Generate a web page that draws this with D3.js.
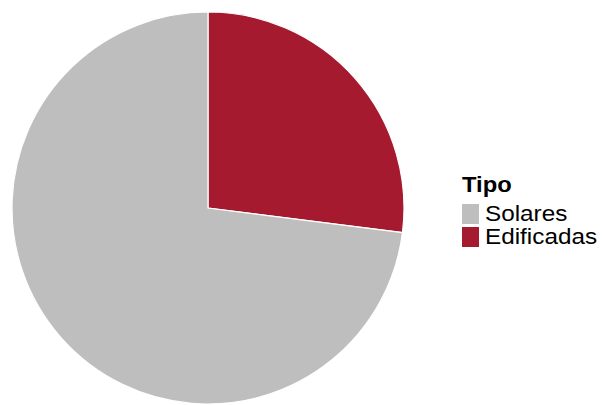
<!DOCTYPE html>
<html>
<head>
<meta charset="utf-8">
<script src="https://cdn.jsdelivr.net/npm/d3@7"></script>
<style>
  body { margin: 0; background: #fff; }
  text { font-family: "Liberation Sans", Arial, sans-serif; }
</style>
</head>
<body>
<svg id="chart" width="603" height="405"></svg>
<script>
const categories = ["Edificadas", "Solares"];
const values = [27, 73];
const legendOrder = ["Solares", "Edificadas"];
const colors = { "Solares": "#bebebe", "Edificadas": "#a51a2f" };

const width = 603, height = 405;
const cx = 208, cy = 208, radius = 196;

const svg = d3.select("#chart");

const pie = d3.pie().sort(null).value(d => d.value);
const arc = d3.arc().innerRadius(0).outerRadius(radius);

const data = categories.map((c, i) => ({ name: c, value: values[i] }));

const g = svg.append("g").attr("transform", `translate(${cx},${cy})`);

g.selectAll("path")
  .data(pie(data))
  .enter()
  .append("path")
  .attr("d", arc)
  .attr("fill", d => colors[d.data.name])
  .attr("stroke", "#fff")
  .attr("stroke-width", 1.2);

// legend
const legend = svg.append("g").attr("transform", "translate(462,192)");

legend.append("text")
  .attr("transform", "scale(1.08,1)")
  .attr("font-size", 22)
  .attr("font-weight", "bold")
  .text("Tipo");

const item = legend.selectAll(".item")
  .data(legendOrder)
  .enter()
  .append("g")
  .attr("class", "item")
  .attr("transform", (d, i) => `translate(0,${12 + i * 23})`);

item.append("rect")
  .attr("width", 17)
  .attr("height", 20)
  .attr("fill", d => colors[d]);

item.append("text")
  .attr("transform", "translate(23,17) scale(1.13,1)")
  .attr("font-size", 21.5)
  .text(d => d);
</script>
</body>
</html>
